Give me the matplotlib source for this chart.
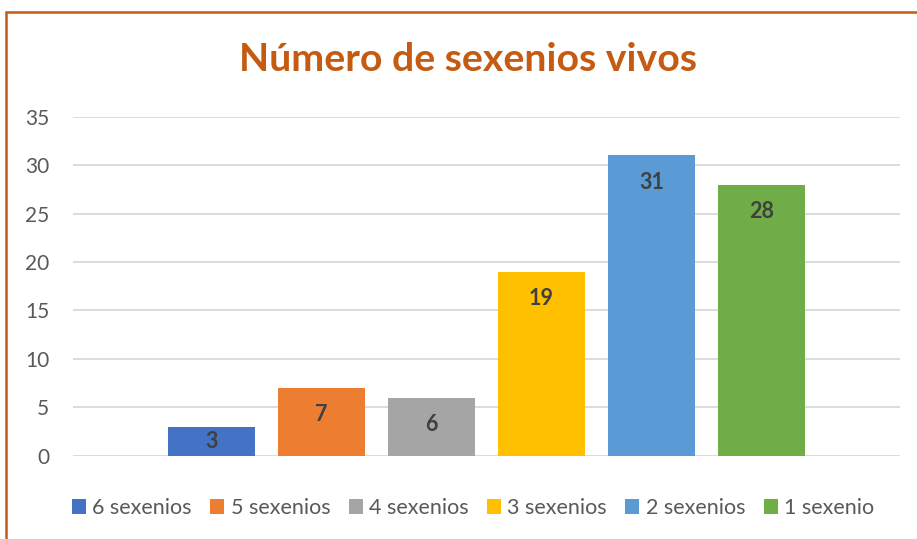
import numpy as np
import matplotlib.pyplot as plt
from matplotlib.patches import Rectangle, Patch

# data
series = ['6 sexenios', '5 sexenios', '4 sexenios', '3 sexenios', '2 sexenios', '1 sexenio']
values = [3, 7, 6, 19, 31, 28]
colors = ['#4472C4', '#ED7D31', '#A5A5A5', '#FFC000', '#5B9BD5', '#70AD47']
title = 'Número de sexenios vivos'

plt.rcParams['font.family'] = ['Lato', 'DejaVu Sans']

W, H = 917, 539
fig = plt.figure(figsize=(W / 100, H / 100), dpi=100)
fig.patch.set_facecolor('white')

# plot area in pixels
x0, x1 = 73, 900
y_bot, y_top = 455.7, 116.7
ax = fig.add_axes([x0 / W, 1 - y_bot / H, (x1 - x0) / W, (y_bot - y_top) / H])

pos = np.arange(len(values))
bar_w = 87 / 110
bars = ax.bar(pos, values, width=bar_w, color=colors, zorder=3)

ax.set_ylim(0, 35)
ax.set_xlim(-(211.5 - x0) / 110, 5 + (x1 - 761.5) / 110)
ax.set_yticks(range(0, 36, 5))
ax.set_xticks([])
ax.yaxis.grid(True, color='#D9D9D9', linewidth=1.3, zorder=0)
for s in ax.spines.values():
    s.set_visible(False)
ax.tick_params(axis='y', length=0, pad=17, labelsize=15, labelcolor='#595959')

# labels inside end
px_per_unit = (y_bot - y_top) / 35
off = 27 / px_per_unit
for p, v in zip(pos, values):
    ax.text(p, max(v - off, v / 2), str(v), ha='center', va='center',
            fontsize=15.5, fontweight='bold', color='#404040', zorder=4)

fig.text(468 / W, 1 - 60 / H, title, ha='center', va='center',
         fontsize=28.3, fontweight='bold', color='#C55A11')

handles = [Patch(facecolor=c, edgecolor='none') for c in colors]
fig.legend(handles, series, loc='center', bbox_to_anchor=(473 / W, 1 - 508 / H),
           ncol=6, frameon=False, fontsize=15.5, handlelength=0.65, handleheight=0.65,
           handletextpad=0.3, columnspacing=0.85, labelcolor='#595959')

# chart border (cropped on right and bottom)
fig.patches.append(Rectangle((6 / W, -0.2), 1.5, 1 - 12 / H + 0.2,
                             transform=fig.transFigure, fill=False,
                             edgecolor='#C55A11', linewidth=1.8))

fig.savefig('out.png', dpi=100)
